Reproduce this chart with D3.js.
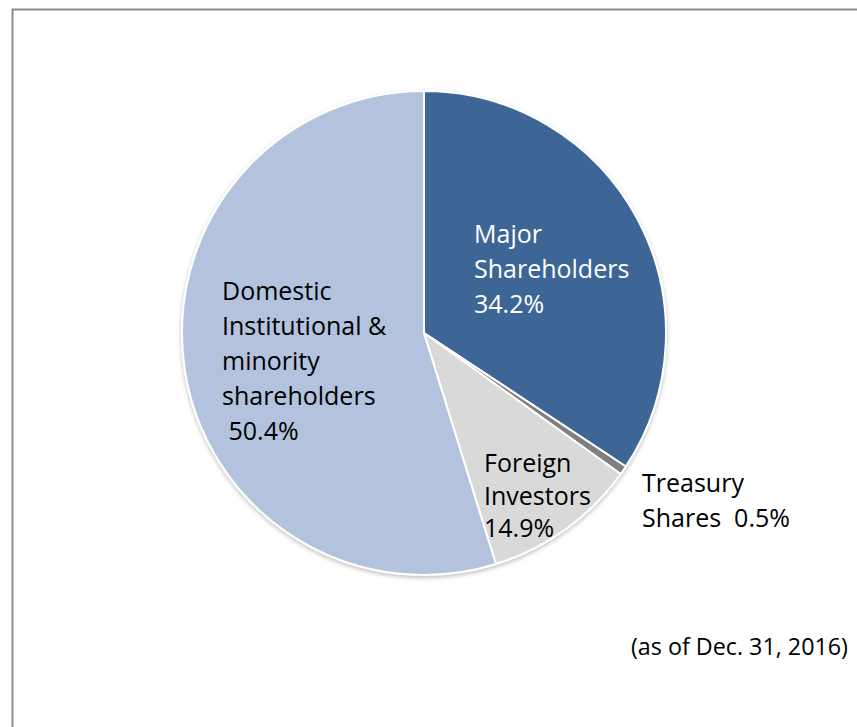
<!DOCTYPE html>
<html>
<head>
<meta charset="utf-8">
<script src="https://cdn.jsdelivr.net/npm/d3@7"></script>
<style>
  html, body { margin: 0; padding: 0; background: #fff; }
  svg { display: block; }
  .lbl { font-family: "Open Sans", "Noto Sans", sans-serif; font-size: 25px; }
</style>
</head>
<body>
<svg id="chart" width="857" height="727"></svg>
<script>
// --- DATA ---
const categories = ['Major Shareholders', 'Treasury Shares', 'Foreign Investors', 'Domestic Institutional & minority shareholders'];
// slice sizes as drawn in the picture (the printed labels differ slightly)
const sliceValues = [34.3, 0.6, 10.3, 54.8];
const sliceColors = ['#3c6596', '#7f7f7f', '#d9d9d9', '#b3c3de'];
const labelLines = [
    ['Major', 'Shareholders', '34.2%'],
    ['Treasury', 'Shares  0.5%'],
    ['Foreign', 'Investors', '14.9%'],
    ['Domestic', 'Institutional &', 'minority', 'shareholders', '\u00a050.4%']
];
const footnote = '(as of Dec. 31, 2016)';

document.addEventListener('DOMContentLoaded', () => {
    const svg = d3.select('#chart');
    const cx = 424, cy = 333, radius = 242;

    // outer frame (runs off the right/bottom edge)
    svg.append('rect')
        .attr('x', 12.5).attr('y', 9.5)
        .attr('width', 900).attr('height', 800)
        .attr('fill', 'none')
        .attr('stroke', '#8c8c8c')
        .attr('stroke-width', 2);

    const defs = svg.append('defs');
    const shadow = defs.append('filter').attr('id', 'shadow')
        .attr('x', '-10%').attr('y', '-10%').attr('width', '120%').attr('height', '120%');
    shadow.append('feDropShadow')
        .attr('dx', 0).attr('dy', 2).attr('stdDeviation', 2)
        .attr('flood-color', '#000').attr('flood-opacity', 0.25);

    const data = categories.map((c, i) => ({ name: c, value: sliceValues[i], color: sliceColors[i], lines: labelLines[i] }));

    const pie = d3.pie().value(d => d.value).sort(null);
    const arc = d3.arc().innerRadius(0).outerRadius(radius);

    const g = svg.append('g')
        .attr('transform', `translate(${cx},${cy})`)
        .attr('filter', 'url(#shadow)');

    g.selectAll('path')
        .data(pie(data))
        .enter().append('path')
        .attr('d', arc)
        .attr('fill', d => d.data.color)
        .attr('stroke', '#fff')
        .attr('stroke-width', 2)
        .attr('stroke-linejoin', 'round');

    // label placement (left edge, first baseline, line step)
    const labelPos = [
        { x: 474, y: 243, step: 35, fill: '#ffffff' },
        { x: 642, y: 492, step: 35, fill: '#000000' },
        { x: 484, y: 472, step: 32.5, fill: '#000000' },
        { x: 222, y: 300, step: 35, fill: '#000000' }
    ];

    data.forEach((d, i) => {
        const p = labelPos[i];
        const t = svg.append('text')
            .attr('class', 'lbl')
            .attr('x', p.x).attr('y', p.y)
            .attr('fill', p.fill)
            .style('white-space', 'pre');
        d.lines.forEach((line, k) => {
            t.append('tspan')
                .attr('x', p.x)
                .attr('y', p.y + k * p.step)
                .text(line);
        });
    });

    svg.append('text')
        .attr('class', 'lbl')
        .attr('x', 848).attr('y', 655)
        .attr('text-anchor', 'end')
        .style('font-size', '23.3px')
        .attr('fill', '#000')
        .text(footnote);
});
</script>
</body>
</html>
